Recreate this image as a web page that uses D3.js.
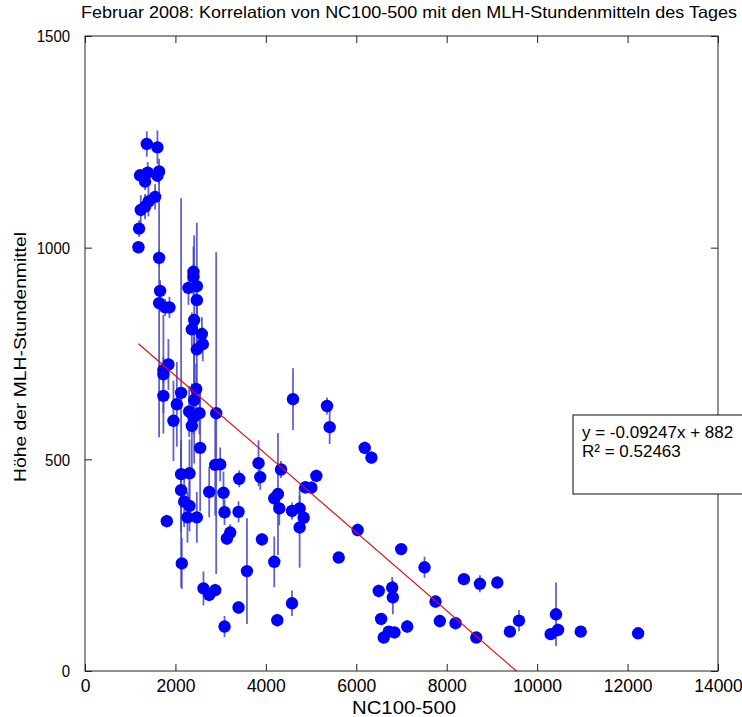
<!DOCTYPE html>
<html><head><meta charset="utf-8">
<script src="https://cdn.jsdelivr.net/npm/d3@7"></script>
<style>body{margin:0;background:#fff}svg{display:block}text{font-family:"Liberation Sans",Arial,sans-serif}</style>
</head><body>
<script>
// Data
const xValues = [1366,1602,1218,1388,1329,1639,1602,1551,1403,1329,1233,1196,1182,1639,1661,1639,1772,1868,2399,2399,2288,2473,2473,2414,2362,2585,2605,2473,1845,1734,1734,1734,2126,2031,1956,2459,2414,2304,2532,2399,2362,2902,2547,2880,2990,2126,2311,2126,2747,3063,3411,3838,3876,4335,4600,5353,5411,5117,4873,5006,4268,4186,2193,2311,2266,2473,1809,3086,3396,3212,3138,3914,4297,4578,4747,4836,4747,2141,3582,4186,2620,2880,2747,3396,4578,3086,4253,6187,6335,6031,5611,6993,7509,6497,6794,6809,7752,8380,8734,9119,6549,7848,8196,7126,6718,6844,6607,8654,9598,9398,10417,10462,10300,10964,12233];
const yValues = [1245,1237,1171,1177,1156,1180,1170,1120,1109,1097,1089,1045,1001,976,898,869,859,859,943,931,905,909,876,829,807,796,772,760,724,711,701,650,657,630,591,666,640,613,609,599,579,609,527,487,488,465,467,427,423,421,454,491,458,476,642,626,576,461,434,433,418,408,400,390,363,363,354,375,376,327,313,311,384,378,384,362,339,254,236,258,195,191,180,150,160,105,120,527,504,333,268,288,245,189,197,174,164,217,206,209,123,118,113,105,93,91,79,79,119,93,134,97,87,93,89];
const yErrors = [30,40,10,25,20,30,15,30,35,30,35,20,10,20,25,317,20,25,60,30,40,150,60,200,40,40,40,100,60,30,140,40,460,100,95,60,150,60,50,40,100,380,150,120,40,80,80,100,60,50,20,54,30,20,73,20,40,15,15,15,144,20,60,60,60,60,15,30,25,20,15,15,40,20,30,30,95,60,125,60,40,15,15,15,30,25,15,15,15,15,10,10,25,15,25,40,15,10,20,10,10,15,15,15,10,10,10,10,25,10,75,15,10,10,10];
const xTicks = [0,2000,4000,6000,8000,10000,12000,14000];
const yTicks = [0,500,1000,1500];
const fitSlope = -0.09247;
const fitIntercept = 882.3;
const fitText = ["y = -0.09247x + 882", "R\u00b2 = 0.52463"];
const titleText = "Februar 2008: Korrelation von NC100-500 mit den MLH-Stundenmitteln des Tages";
const xLabel = "NC100-500";
const yLabel = "H\u00f6he der MLH-Stundenmittel";

const W = 742, H = 717;
const m = {l:85, r:24, t:36, b:46};
const svg = d3.select("body").append("svg").attr("width", W).attr("height", H);
const x = d3.scaleLinear().domain([0,14000]).range([m.l, W-m.r]);
const y = d3.scaleLinear().domain([0,1500]).range([H-m.b, m.t]);

const pts = xValues.map((v,i)=>({x:v, y:yValues[i], e:yErrors[i]}));

// error bars
svg.append("g").selectAll("line").data(pts).join("line")
  .attr("x1", d=>x(d.x)).attr("x2", d=>x(d.x))
  .attr("y1", d=>y(d.y+d.e)).attr("y2", d=>y(Math.max(0,d.y-d.e)))
  .attr("stroke", "#4646c4").attr("stroke-width", 1.8).attr("stroke-opacity", 0.85);

// markers
svg.append("g").selectAll("circle").data(pts).join("circle")
  .attr("cx", d=>x(d.x)).attr("cy", d=>y(d.y)).attr("r", 6.2)
  .attr("fill", "#0000ff");

// fit line
const x0 = d3.min(xValues), x1 = -fitIntercept/fitSlope;
svg.append("line")
  .attr("x1", x(x0)).attr("y1", y(fitSlope*x0+fitIntercept))
  .attr("x2", x(x1)).attr("y2", y(fitSlope*x1+fitIntercept))
  .attr("stroke", "#e01010").attr("stroke-width", 1.2);

// axes box
svg.append("rect").attr("x", m.l).attr("y", m.t).attr("width", W-m.r-m.l).attr("height", H-m.b-m.t)
  .attr("fill", "none").attr("stroke", "#222").attr("stroke-width", 1);

const tl = 7;
const xb = d3.axisBottom(x).tickValues(xTicks).tickSizeInner(-tl).tickSizeOuter(0).tickPadding(10).tickFormat(d3.format("d"));
const gx = svg.append("g").attr("transform", `translate(0,${H-m.b})`).call(xb);
const xt = d3.axisTop(x).tickValues(xTicks).tickSizeInner(-tl).tickSizeOuter(0).tickFormat("");
const gxt = svg.append("g").attr("transform", `translate(0,${m.t})`).call(xt);
const yl = d3.axisLeft(y).tickValues(yTicks).tickSizeInner(-tl).tickSizeOuter(0).tickPadding(16).tickFormat(d3.format("d"));
const gy = svg.append("g").attr("transform", `translate(${m.l},0)`).call(yl);
const yr = d3.axisRight(y).tickValues(yTicks).tickSizeInner(-tl).tickSizeOuter(0).tickFormat("");
const gyr = svg.append("g").attr("transform", `translate(${W-m.r},0)`).call(yr);
[gx,gxt,gy,gyr].forEach(g=>{
  g.select(".domain").remove();
  g.selectAll(".tick line").attr("stroke","#222");
  g.selectAll("text").attr("fill","#000").attr("font-family","Liberation Sans, Arial, sans-serif");
});
gx.selectAll("text").attr("font-size", 17.5).attr("dy","0.71em").attr("y", 9);
gy.selectAll("text").attr("font-size", 17).attr("dy","0.35em").attr("x", -15)
  .attr("textLength", d=>String(d).length*8.3).attr("lengthAdjust","spacingAndGlyphs");

// fit text box
svg.append("rect").attr("x", 573).attr("y", 415).attr("width", 200).attr("height", 79)
  .attr("fill", "#fff").attr("stroke", "#333").attr("stroke-width", 1.2);
svg.append("g").selectAll("text").data(fitText).join("text")
  .attr("x", 582).attr("y", (d,i)=>438+i*18.5).attr("font-size", 17).attr("fill","#000").text(d=>d);

// labels
svg.append("text").attr("x", 409).attr("y", 18).attr("text-anchor","middle").attr("font-size", 16.5)
  .attr("textLength", 656).attr("lengthAdjust","spacingAndGlyphs").text(titleText);
svg.append("text").attr("x", 404).attr("y", 714).attr("text-anchor","middle").attr("font-size", 18)
  .attr("textLength", 104).attr("lengthAdjust","spacingAndGlyphs").text(xLabel);
svg.append("text").attr("transform", "translate(26,357) rotate(-90)").attr("text-anchor","middle").attr("font-size", 16)
  .attr("textLength", 250).attr("lengthAdjust","spacingAndGlyphs").text(yLabel);
</script>
</body></html>
